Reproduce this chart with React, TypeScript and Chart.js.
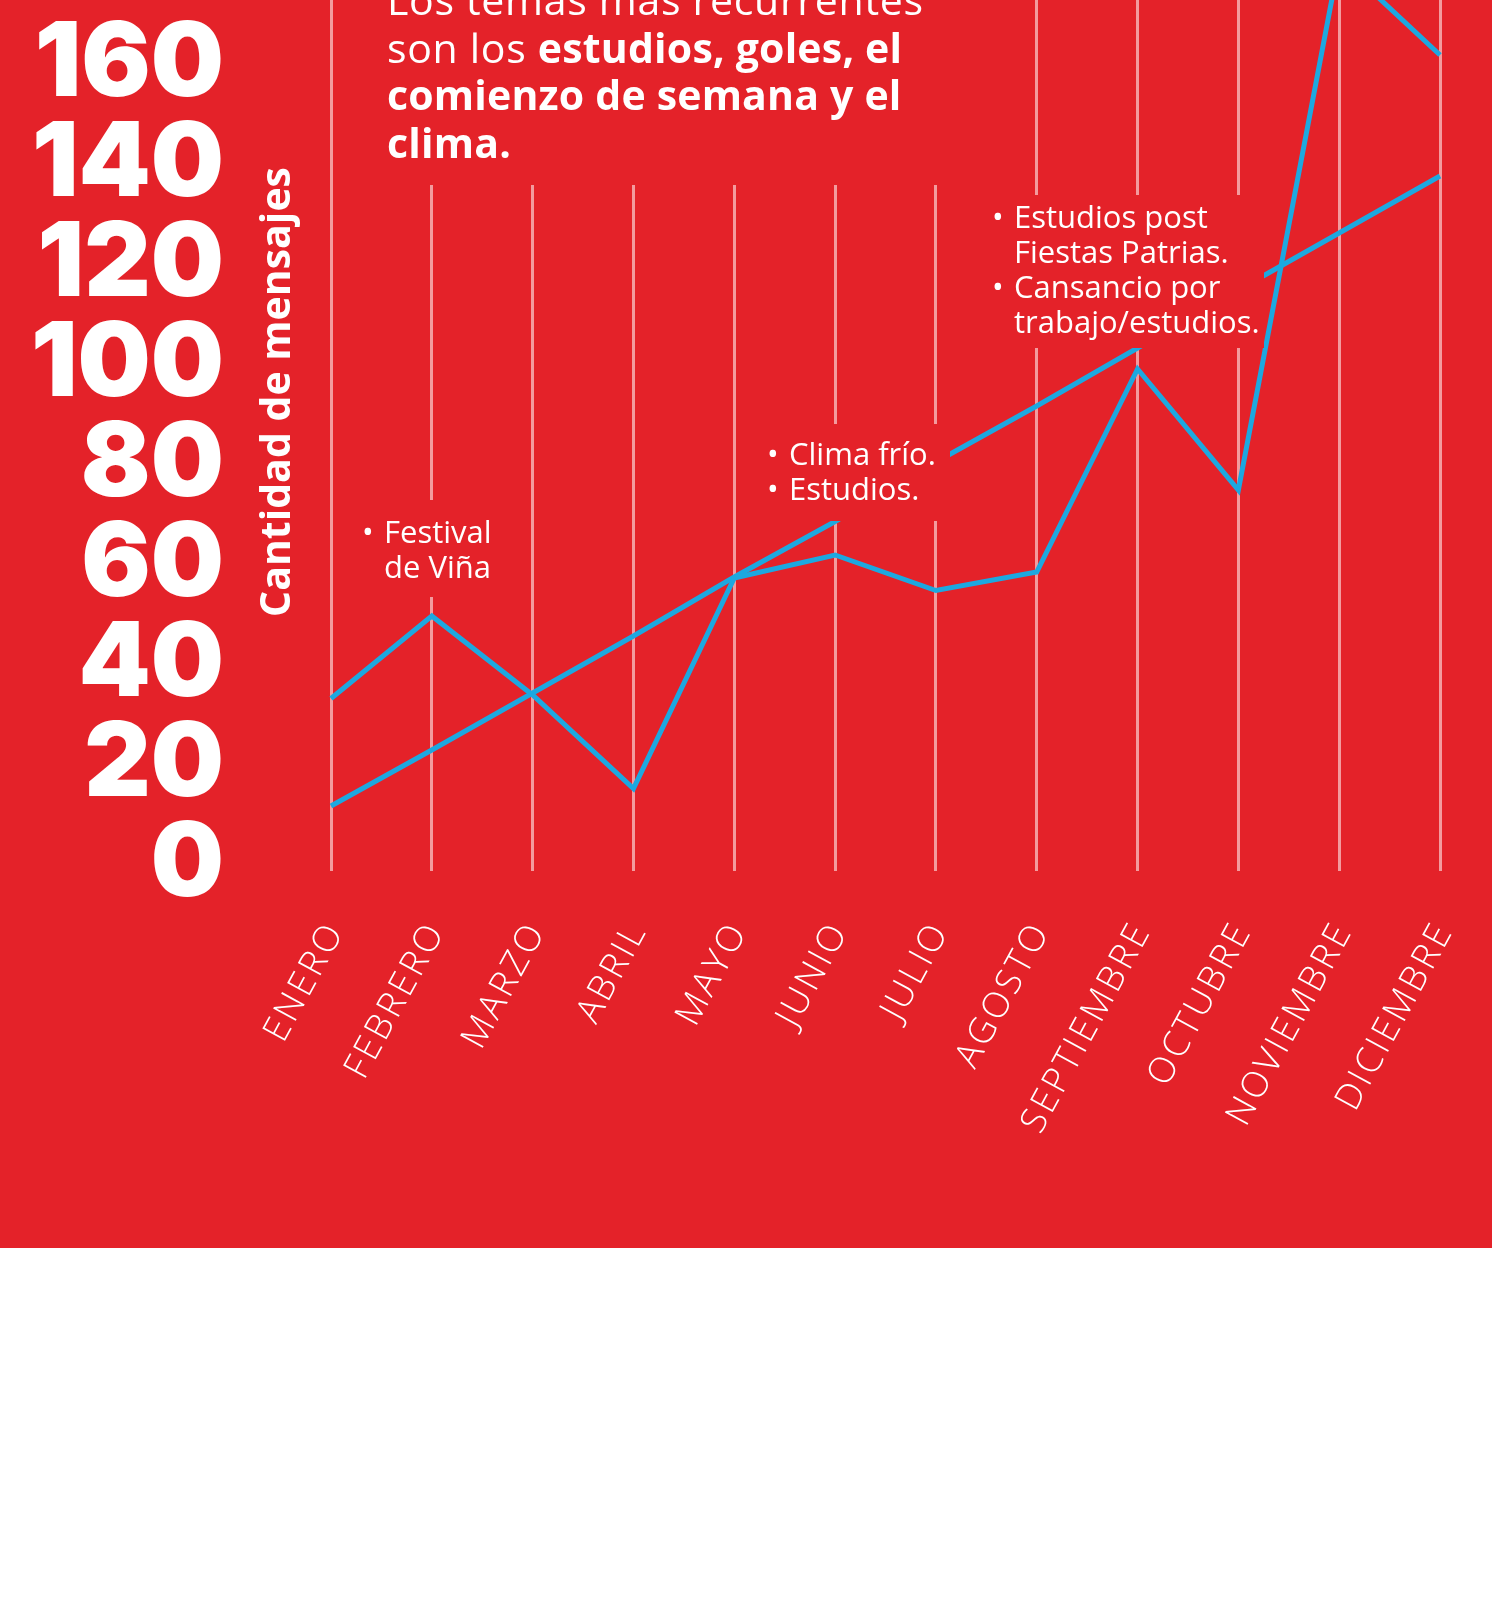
import React, { useEffect, useRef } from 'react';
import { Chart, registerables } from 'chart.js';

Chart.register(...registerables);

const months = [
  'ENERO', 'FEBRERO', 'MARZO', 'ABRIL', 'MAYO', 'JUNIO',
  'JULIO', 'AGOSTO', 'SEPTIEMBRE', 'OCTUBRE', 'NOVIEMBRE', 'DICIEMBRE',
];
const seriesPeaks = [32.5, 49, 33.2, 14.5, 56.6, 61.2, 54.1, 57.8, 98.4, 74.2, 180, 161.2];
const seriesTrend = [11, 22.2, 33.6, 45, 56.8, 67.9, 79.8, 91, 102.6, 114.2, 125.6, 137];
const yMin = -2;
const yMax = 172.2;
const yStep = 20;
const yAxisTitle = 'Cantidad de mensajes';

const titleRegular1 = 'Los temas más recurrentes';
const titleRegular2 = 'son los ';
const titleBold2 = 'estudios, goles, el';
const titleBold3 = 'comienzo de semana y el';
const titleBold4 = 'clima.';

const noteFestival = ['Festival', 'de Viña'];
const noteClima = ['Clima frío.', 'Estudios.'];
const noteEstudios = ['Estudios post', 'Fiestas Patrias.', 'Cansancio por', 'trabajo/estudios.'];

const RED = '#E42229';
const BLUE = '#1DA8E0';
const W = 1492;
const H = 1248;

type Note = {
  rect: [number, number, number, number];
  textX: number;
  baseY: number;
  lines: string[];
  bullets: number[];
};

const notes: Note[] = [
  { rect: [358, 500, 147, 97], textX: 384, baseY: 543, lines: noteFestival, bullets: [0] },
  { rect: [742, 424, 208, 97], textX: 789, baseY: 465, lines: noteClima, bullets: [0, 1] },
  { rect: [975, 195, 289, 153], textX: 1014, baseY: 228, lines: noteEstudios, bullets: [0, 2] },
];

const notesPlugin = {
  id: 'notesPlugin',
  beforeDatasetsDraw(chart: any) {
    chart.ctx.letterSpacing = '0px';
  },
  afterDatasetsDraw(chart: any) {
    const ctx: any = chart.ctx;
    ctx.save();
    // title block
    ctx.fillStyle = RED;
    ctx.fillRect(380, 0, 575, 185);
    ctx.fillStyle = '#FFFFFF';
    ctx.textBaseline = 'alphabetic';
    ctx.textAlign = 'left';
    const reg = '400 41px "Open Sans", sans-serif';
    const bold = '700 41px "Open Sans", sans-serif';
    ctx.font = reg;
    ctx.letterSpacing = '0.7px';
    ctx.fillText(titleRegular1, 387, 15);
    ctx.fillText(titleRegular2, 387, 63);
    const w2 = ctx.measureText(titleRegular2).width;
    ctx.font = bold;
    ctx.letterSpacing = '0.2px';
    ctx.fillText(titleBold2, 387 + w2, 63);
    ctx.fillText(titleBold3, 387, 110);
    ctx.fillText(titleBold4, 387, 158);
    ctx.letterSpacing = '0px';

    // notes
    for (const n of notes) {
      ctx.fillStyle = RED;
      ctx.fillRect(n.rect[0], n.rect[1], n.rect[2], n.rect[3]);
      ctx.fillStyle = '#FFFFFF';
      ctx.font = '400 31px "Open Sans", sans-serif';
      n.lines.forEach((line, i) => {
        const y = n.baseY + i * 35;
        ctx.fillText(line, n.textX, y);
        if (n.bullets.includes(i)) {
          ctx.fillText('•', n.textX - 22, y);
        }
      });
    }
    ctx.restore();
  },
  afterDraw(chart: any) {
    const ctx: any = chart.ctx;
    ctx.save();
    ctx.letterSpacing = '0px';
    ctx.translate(278, 392);
    ctx.rotate(-Math.PI / 2);
    ctx.fillStyle = '#FFFFFF';
    ctx.textAlign = 'center';
    ctx.textBaseline = 'middle';
    ctx.font = '700 41px "Open Sans", sans-serif';
    ctx.fillText(yAxisTitle, 0, 0);
    ctx.restore();
  },
};

export default function App() {
  const ref = useRef<HTMLCanvasElement | null>(null);

  useEffect(() => {
    if (!ref.current) return;
    const chart = new Chart(ref.current, {
      type: 'line',
      data: {
        labels: months,
        datasets: [
          {
            data: seriesPeaks,
            borderColor: BLUE,
            borderWidth: 5,
            pointRadius: 0,
            tension: 0,
            fill: false,
          },
          {
            data: seriesTrend,
            borderColor: BLUE,
            borderWidth: 5,
            pointRadius: 0,
            tension: 0,
            fill: false,
          },
        ],
      },
      options: {
        animation: false,
        responsive: false,
        devicePixelRatio: 1,
        layout: { padding: { left: 0, right: 52, top: 0, bottom: 0 } },
        plugins: {
          legend: { display: false },
          tooltip: { enabled: false },
          title: { display: false },
        },
        scales: {
          x: {
            offset: false,
            grid: {
              display: true,
              color: 'rgba(255,255,255,0.55)',
              lineWidth: 3,
              drawTicks: false,
            },
            border: { display: false },
            ticks: {
              color: (c: any) => {
                // wider tracking for month labels, like the original typeface
                c.chart.ctx.letterSpacing = '3px';
                return '#FFFFFF';
              },
              autoSkip: false,
              maxRotation: 61.5,
              minRotation: 61.5,
              padding: 44,
              labelOffset: 5,
              font: { family: '"Open Sans", sans-serif', size: 36, weight: 300 },
            },
            afterFit(scale: any) {
              scale.height = H - 871;
              scale.paddingLeft = 0;
              scale.paddingRight = 0;
            },
          },
          y: {
            min: yMin,
            max: yMax,
            grid: { display: false, drawTicks: false },
            border: { display: false },
            ticks: {
              stepSize: yStep,
              includeBounds: false,
              color: (c: any) => {
                c.chart.ctx.letterSpacing = '0px';
                return '#FFFFFF';
              },
              padding: 107,
              labelOffset: 4,
              font: { family: 'Inter, "DejaVu Sans", sans-serif', size: 103, weight: 900, lineHeight: 1 },
            },
            afterFit(scale: any) {
              scale.width = 331;
              scale.paddingTop = 0;
              scale.paddingBottom = 0;
            },
          },
        },
      },
      plugins: [notesPlugin],
    });
    return () => chart.destroy();
  }, []);

  return (
    <div
      style={{
        position: 'absolute',
        left: 0,
        top: 0,
        width: W,
        height: H,
        background: RED,
      }}
    >
      <canvas ref={ref} width={W} height={H} style={{ display: 'block', width: W, height: H }} />
    </div>
  );
}
